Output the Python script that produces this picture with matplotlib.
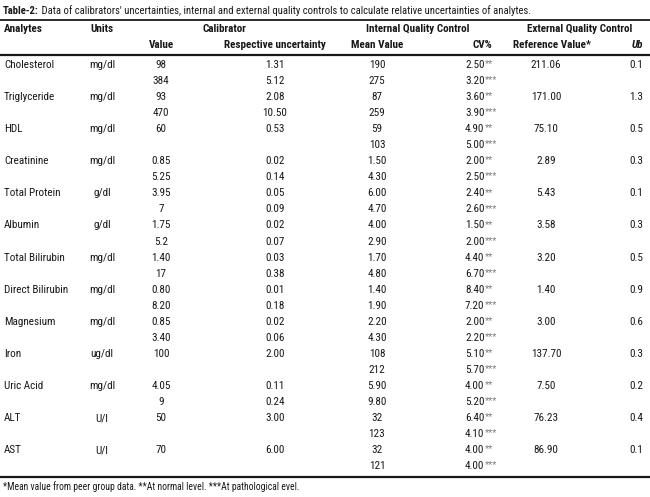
import matplotlib
matplotlib.use("Agg")
import matplotlib.pyplot as plt
from matplotlib import font_manager

# table contents
caption_bold = "Table-2:"
caption_rest = (" Data of calibrators' uncertainties, internal and external quality controls "
                "to calculate relative uncertainties of analytes.")
footnote = "*Mean value from peer group data. **At normal level. ***At pathological evel."

analytes = ['Cholesterol', 'Triglyceride', 'HDL', 'Creatinine', 'Total Protein', 'Albumin',
            'Total Bilirubin', 'Direct Bilirubin', 'Magnesium', 'Iron', 'Uric Acid', 'ALT', 'AST']
units = ['mg/dl', 'mg/dl', 'mg/dl', 'mg/dl', 'g/dl', 'g/dl', 'mg/dl', 'mg/dl', 'mg/dl',
         'ug/dl', 'mg/dl', 'U/l', 'U/l']
cal_value = [['98', '384'], ['93', '470'], ['60', ''], ['0.85', '5.25'], ['3.95', '7'],
             ['1.75', '5.2'], ['1.40', '17'], ['0.80', '8.20'], ['0.85', '3.40'], ['100', ''],
             ['4.05', '9'], ['50', ''], ['70', '']]
cal_unc = [['1.31', '5.12'], ['2.08', '10.50'], ['0.53', ''], ['0.02', '0.14'], ['0.05', '0.09'],
           ['0.02', '0.07'], ['0.03', '0.38'], ['0.01', '0.18'], ['0.02', '0.06'], ['2.00', ''],
           ['0.11', '0.24'], ['3.00', ''], ['6.00', '']]
iqc_mean = [['190', '275'], ['87', '259'], ['59', '103'], ['1.50', '4.30'], ['6.00', '4.70'],
            ['4.00', '2.90'], ['1.70', '4.80'], ['1.40', '1.90'], ['2.20', '4.30'], ['108', '212'],
            ['5.90', '9.80'], ['32', '123'], ['32', '121']]
iqc_cv = [['2.50', '3.20'], ['3.60', '3.90'], ['4.90', '5.00'], ['2.00', '2.50'], ['2.40', '2.60'],
          ['1.50', '2.00'], ['4.40', '6.70'], ['8.40', '7.20'], ['2.00', '2.20'], ['5.10', '5.70'],
          ['4.00', '5.20'], ['6.40', '4.10'], ['4.00', '4.00']]
cv_marks = ['**', '***']
eqc_ref = ['211.06', '171.00', '75.10', '2.89', '5.43', '3.58', '3.20', '1.40', '3.00',
           '137.70', '7.50', '76.23', '86.90']
eqc_ub = ['0.1', '1.3', '0.5', '0.3', '0.1', '0.3', '0.5', '0.9', '0.6', '0.3', '0.2', '0.4', '0.1']


# pick the narrowest family that is actually installed
def pick_font():
    for name in ['Liberation Sans Narrow', 'DejaVu Sans Condensed', 'Roboto Condensed',
                 'Liberation Sans', 'Roboto', 'DejaVu Sans']:
        try:
            font_manager.findfont(font_manager.FontProperties(family=name),
                                  fallback_to_default=False)
            return name
        except ValueError:
            continue
    return 'DejaVu Sans'


family = pick_font()
plt.rcParams['font.family'] = [family, 'DejaVu Sans']

W, H = 650, 497
fig = plt.figure(figsize=(W / 100, H / 100), dpi=100)
ax = fig.add_axes([0, 0, 1, 1])
ax.set_xlim(0, W)
ax.set_ylim(H, 0)
ax.axis('off')
renderer = fig.canvas.get_renderer()


def width_at(s, size, **kw):
    t = ax.text(0, 0, s, fontsize=size, **kw)
    w = t.get_window_extent(renderer).width
    t.remove()
    return w


# size the fonts so that sample strings get the reference widths
fs = min(9.5, 10 * 50 / width_at('Cholesterol', 10))
cap_fs = min(9.5, 10 * 520 / width_at(caption_bold + caption_rest, 10))
foot_fs = min(8.5, 10 * 292 / width_at(footnote, 10))

txt = '#1a1718'

# caption
cap = ax.text(3, 11, caption_bold, fontsize=cap_fs, fontweight='bold', va='center', color=txt)
ax.annotate(caption_rest, xy=(1, 0.5), xycoords=cap, va='center', fontsize=cap_fs, color=txt)

# rules
ax.plot([0, W], [19.5, 19.5], color=txt, lw=1.3)
ax.plot([0, W], [54.5, 54.5], color=txt, lw=1.6)
ax.plot([0, W], [476.5, 476.5], color=txt, lw=1.6)

# header
hb = dict(fontsize=fs, fontweight='bold', va='center', color=txt)
ax.text(4, 29, 'Analytes', ha='left', **hb)
ax.text(102, 29, 'Units', ha='center', **hb)
ax.text(224, 29, 'Calibrator', ha='center', **hb)
ax.text(418, 29, 'Internal Quality Control', ha='center', **hb)
ax.text(580, 29, 'External Quality Control', ha='center', **hb)
ax.text(161, 45, 'Value', ha='center', **hb)
ax.text(275, 45, 'Respective uncertainty', ha='center', **hb)
ax.text(377, 45, 'Mean Value', ha='center', **hb)
ax.text(482, 45, 'CV%', ha='center', **hb)
ax.text(552, 45, 'Reference Value*', ha='center', **hb)
ax.text(643, 45, 'Ub', ha='right', style='italic', **hb)

# body
y0, dy = 65, 16.05
nb = dict(fontsize=fs, va='center', color=txt)
for i, name in enumerate(analytes):
    y = y0 + 2 * i * dy
    ax.text(4, y, name, ha='left', **nb)
    ax.text(102, y, units[i], ha='center', **nb)
    ax.text(546, y, eqc_ref[i], ha='center', **nb)
    ax.text(643, y, eqc_ub[i], ha='right', **nb)
    for j in range(2):
        yy = y + j * dy
        ax.text(161, yy, cal_value[i][j], ha='center', **nb)
        ax.text(275, yy, cal_unc[i][j], ha='center', **nb)
        ax.text(377, yy, iqc_mean[i][j], ha='center', **nb)
        cv = ax.text(465, yy, iqc_cv[i][j], ha='left', **nb)
        ax.annotate(cv_marks[j], xy=(1, 0.62), xycoords=cv, xytext=(0.3, 0),
                    textcoords='offset points', va='center', fontsize=fs * 0.85,
                    color='#7a7a7a')

ax.text(3, 487, footnote, fontsize=foot_fs, va='center', color=txt)

fig.savefig('out.png', dpi=100)
